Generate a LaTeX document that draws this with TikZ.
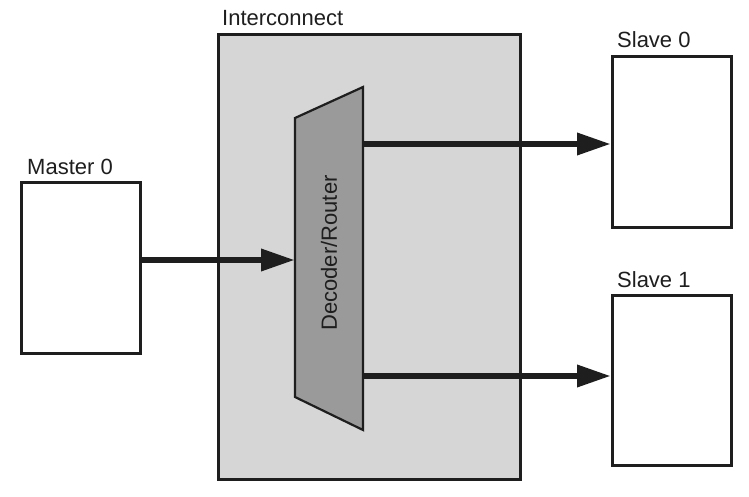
\documentclass[tikz,border=0pt]{standalone}
\usepackage{fontspec}
\setmainfont{Liberation Sans}
\usetikzlibrary{arrows.meta}
\definecolor{icfill}{HTML}{D6D6D6}
\definecolor{decfill}{HTML}{9A9A9A}
\definecolor{ink}{HTML}{1E1E1E}
\begin{document}
\begin{tikzpicture}[x=1pt,y=-1pt,
  box/.style={draw=ink,line width=2.6pt,fill=white,inner sep=0,minimum width=119pt,minimum height=171pt,anchor=north west},
  lbl/.style={inner sep=0,anchor=base west,text=ink,font=\fontsize{22}{26}\selectfont},
  bus/.style={draw=ink,line width=6.5pt,-{Triangle[length=34pt,width=21pt]}}]
\useasboundingbox (0,0) rectangle (749,497);
\fill[white] (0,0) rectangle (749,497);
% interconnect
\node[draw=ink,line width=3pt,fill=icfill,inner sep=0,minimum width=302pt,minimum height=445pt,anchor=north west] (ic) at (217,33) {};
\node[lbl] (iclbl) at (222,26) {Interconnect};
% boxes
\node[box] (m0) at (20,181) {};
\node[lbl] (m0lbl) at (27,175) {Master 0};
\node[box] (s0) at (611,55) {};
\node[lbl] (s0lbl) at (617,48) {Slave 0};
\node[box,minimum height=170pt] (s1) at (611,294) {};
\node[lbl] (s1lbl) at (617,287) {Slave 1};
% decoder
\coordinate (dtl) at (295,118);
\coordinate (dbl) at (295,397);
\coordinate (dtr) at (363,87);
\coordinate (dbr) at (363,430);
\draw[draw=ink,line width=2.2pt,fill=decfill,line join=miter] (dtl) -- (dtr) -- (dbr) -- (dbl) -- cycle;
\node[inner sep=0,rotate=90,text=ink,font=\fontsize{22}{26}\selectfont] (declbl) at (329,253) {Decoder/Router};
\coordinate (din) at (295,260);
\coordinate (do0) at (363,144);
\coordinate (do1) at (363,376);
% connectors
\draw[bus] (m0.east |- din) -- (din);
\draw[bus] (do0) -- (s0.west |- do0);
\draw[bus] (do1) -- (s1.west |- do1);
\end{tikzpicture}
\end{document}
